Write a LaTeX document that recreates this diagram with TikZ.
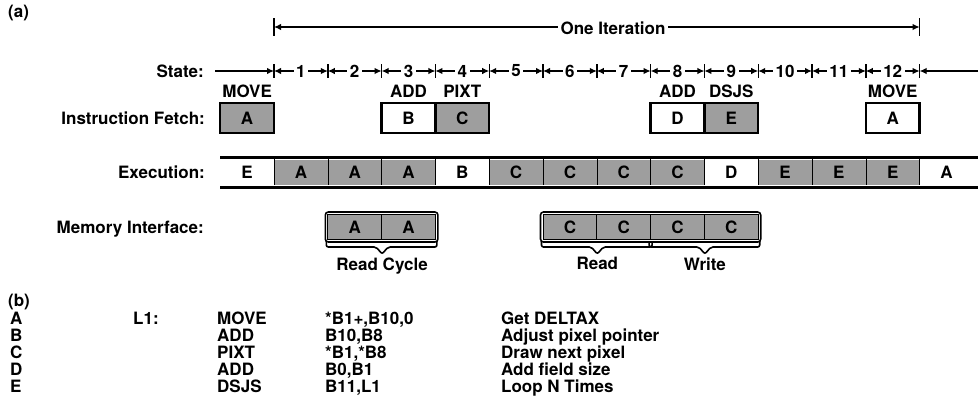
\documentclass[tikz,border=0pt]{standalone}
\usepackage{fontspec}
\setmainfont{TeX Gyre Heros}
\usetikzlibrary{positioning,arrows.meta,calc}
\tikzset{
  dimline/.style={{Latex[length=7pt,width=6.5pt]}-{Latex[length=7pt,width=6.5pt]}, line width=1.2pt},
  leadline/.style={-{Latex[length=7pt,width=6.5pt]}, line width=1.2pt},
  tickmark/.style={line width=1.4pt},
  steplabel/.style={fill=white, inner sep=2.5pt},
  rowlabel/.style={anchor=base east, inner sep=0pt},
  fetchbox/.style={draw, line width=2.4pt, minimum width=53.8pt, minimum height=30pt, inner sep=0pt},
  execcell/.style={minimum width=53.8pt, minimum height=25pt, inner sep=0pt},
  memcell/.style={draw, line width=1pt, minimum width=53.8pt, minimum height=25pt, inner sep=0pt},
  dotcell/.style={fill=black!38},
  whitecell/.style={fill=white},
  rail/.style={line width=3pt},
  memframe/.style={line width=1.6pt, rounded corners=3pt},
  membrace/.style={line width=1.6pt, rounded corners=2pt},
  listing/.style={anchor=base west, inner sep=0pt}
}
\begin{document}
\begin{tikzpicture}[x=1pt, y=-1pt, every node/.style={font=\bfseries\fontsize{17}{17}\selectfont}]
  \useasboundingbox (0,0) rectangle (980,397);
  \node[listing] (parta) at (8,17) {(a)};

  \coordinate (it0) at (274,27);
  \coordinate (it1) at (919.6,27);
  \draw[dimline] (it0) -- (it1);
  \draw[tickmark] ($(it0)+(0,-9)$) -- ($(it0)+(0,9)$);
  \draw[tickmark] ($(it1)+(0,-9)$) -- ($(it1)+(0,9)$);
  \node[steplabel] (iter) at (613,28) {One Iteration};

  \node[rowlabel] (statelab) at (204,77) {State:};
  \foreach \k in {0,...,12} \coordinate (t\k) at ({274+53.8*\k},71);
  \coordinate (tin) at (215,71);
  \coordinate (tout) at (978,71);
  \draw[leadline] (tin) -- (t0);
  \draw[leadline] (tout) -- (t12);
  \foreach \n [evaluate=\n as \p using int(\n-1)] in {1,...,12}
    \draw[dimline] (t\p) -- node[steplabel] (s\n) {\n} (t\n);
  \foreach \k in {0,...,12}
    \draw[tickmark] ($(t\k)+(0,-7)$) -- ($(t\k)+(0,7)$);

  \node[rowlabel] (fetchlab) at (205,124) {Instruction Fetch:};
  \node[rowlabel] (execlab) at (205,178) {Execution:};
  \node[rowlabel] (memlab) at (204,233) {Memory Interface:};

  \node[fetchbox, dotcell] (fa) at (247.1,118) {A};
  \node[fetchbox, whitecell] (fb) at (408.5,118) {B};
  \node[fetchbox, dotcell] (fc) at (462.3,118) {C};
  \node[fetchbox, whitecell] (fd) at (677.5,118) {D};
  \node[fetchbox, dotcell] (fe) at (731.3,118) {E};
  \node[fetchbox, whitecell] (fa2) at (892.7,118) {A};
  \node[above=1pt of fa] (opa) {MOVE};
  \node[above=1pt of fb] (opb) {ADD};
  \node[above=1pt of fc] (opc) {PIXT};
  \node[above=1pt of fd] (opd) {ADD};
  \node[above=1pt of fe] (ope) {DSJS};
  \node[above=1pt of fa2] (opa2) {MOVE};

  \foreach \lab/\sty [count=\i from 0] in {E/whitecell, A/dotcell, A/dotcell, A/dotcell, B/whitecell, C/dotcell, C/dotcell, C/dotcell, C/dotcell, D/whitecell, E/dotcell, E/dotcell, E/dotcell, A/whitecell}
    \node[execcell, \sty] (e\i) at ({247.1+53.8*\i},172) {\lab};
  \foreach \i in {0,...,12}
    \draw[line width=1pt] (e\i.north east) -- (e\i.south east);
  \coordinate (ex0) at (220,157);
  \coordinate (ex1) at (978,157);
  \coordinate (ey0) at (220,187);
  \coordinate (ey1) at (978,187);
  \draw[rail] (ex0) -- (ex1);
  \draw[rail] (ey0) -- (ey1);

  \node[memcell, dotcell] (m2) at (354.7,227) {A};
  \node[memcell, dotcell] (m3) at (408.5,227) {A};
  \node[memcell, dotcell] (m6) at (569.9,227) {C};
  \node[memcell, dotcell] (m7) at (623.7,227) {C};
  \node[memcell, dotcell] (m8) at (677.5,227) {C};
  \node[memcell, dotcell] (m9) at (731.3,227) {C};
  \draw[memframe] ($(m2.north west)+(-2,-2)$) rectangle ($(m3.south east)+(2,2)$);
  \draw[memframe] ($(m6.north west)+(-2,-2)$) rectangle ($(m9.south east)+(2,2)$);
  \foreach \a/\b/\txt in {m2/m3/Read Cycle, m6/m7/Read, m8/m9/Write}{
    \draw[membrace] ($(\a.south west)+(-1,1)$) |- ($(\a.south east)+(-6,7)$)
      -- ($(\a.south east)+(0,14)$) coordinate (\a tip)
      -- ($(\a.south east)+(6,7)$) -| ($(\b.south east)+(1,1)$);
    \node[below=0pt of \a tip] (\a lab) {\txt};
  }

  \node[listing] (partb) at (8,306) {(b)};
  \node[listing] (lone) at (133,324) {L1:};
  \foreach \tag/\op/\arg/\cmt [count=\i from 0] in {A/MOVE/{*B1+,B10,0}/Get DELTAX, B/ADD/{B10,B8}/Adjust pixel pointer, C/PIXT/{*B1,*B8}/Draw next pixel, D/ADD/{B0,B1}/Add field size, E/DSJS/{B11,L1}/Loop N Times}{
    \node[listing] (tag\tag) at (10,{324+17*\i}) {\tag};
    \node[listing] (op\tag) at (217,{324+17*\i}) {\op};
    \node[listing] (arg\tag) at (325,{324+17*\i}) {\arg};
    \node[listing] (cmt\tag) at (501,{324+17*\i}) {\cmt};
  }
\end{tikzpicture}
\end{document}
